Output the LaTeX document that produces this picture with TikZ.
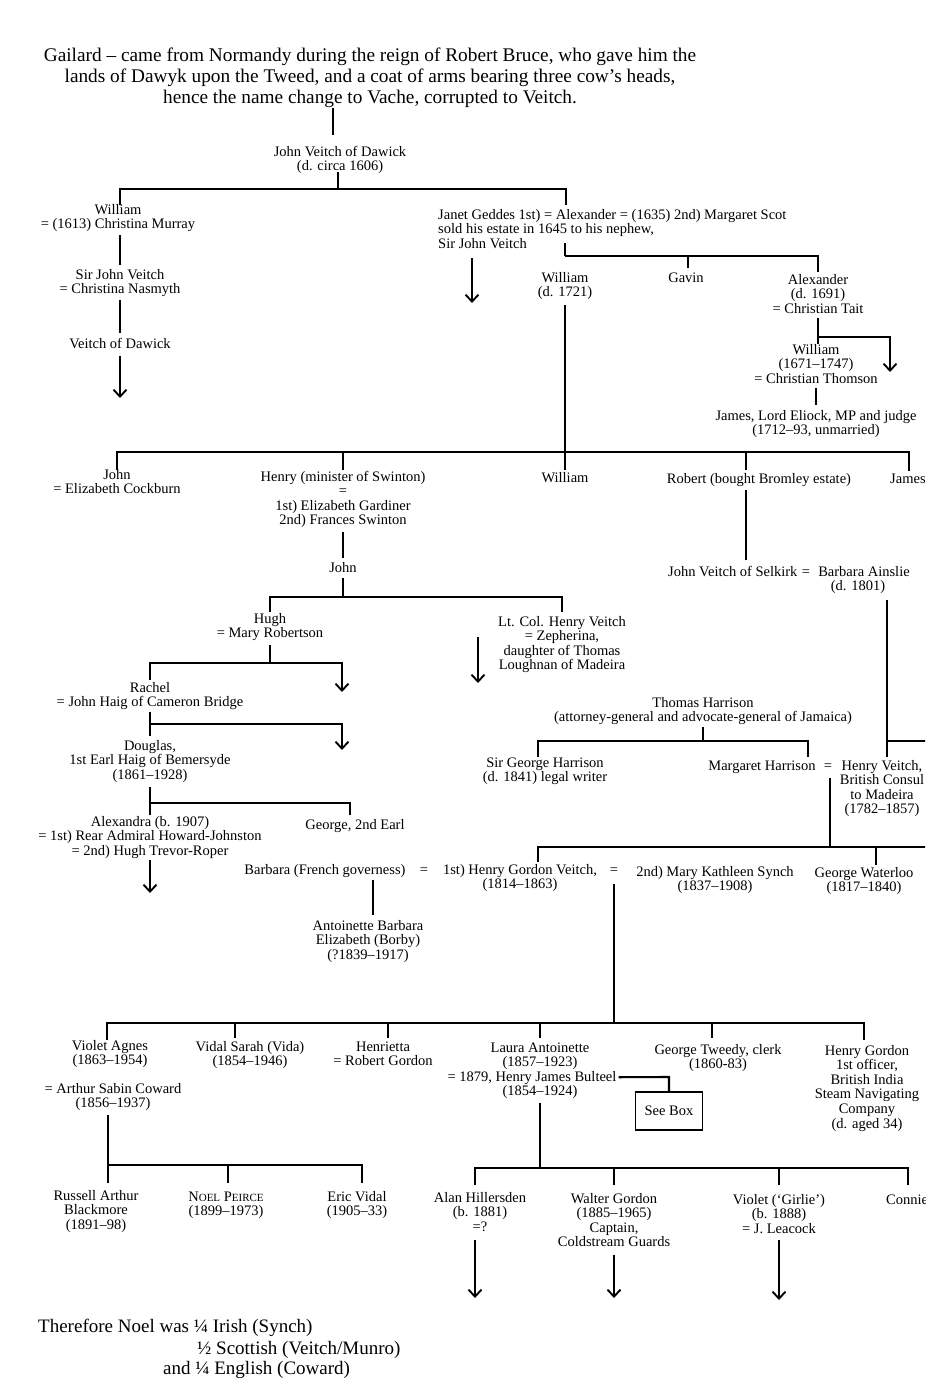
\documentclass[tikz,border=0pt]{standalone}
\usepackage{fontspec}
\setmainfont{Liberation Serif}
\usetikzlibrary{arrows.meta}
\newcommand{\bodyfont}{\fontsize{14.5}{14.6}\selectfont}
\newcommand{\headfont}{\fontsize{19.3}{21}\selectfont}
\newcommand{\footfont}{\fontsize{19}{21}\selectfont}
\newcommand{\smc}[1]{{\fontsize{11}{12}\selectfont #1}}
\begin{document}
\begin{tikzpicture}[x=1pt,y=-1pt,
  lbl/.style={inner sep=0pt,align=center,font=\bodyfont,anchor=base},
  lbll/.style={inner sep=0pt,align=left,font=\bodyfont,anchor=base west},
  nl/.style={yshift=-(#1-1)*14.6pt},
  tn/.style={line width=1.4pt,line join=miter},
  md/.style={line width=2.1pt,line join=miter},
  tk/.style={line width=2.7pt,line join=miter},
  arr/.style={line width=1.7pt,line join=miter,-{Straight Barb[length=7pt,width=13pt,line width=1.9pt]}},
]
\useasboundingbox (0,0) rectangle (942,1400);
\clip (0,0) rectangle (925,1400);
% header
\node[inner sep=0pt,align=center,font=\headfont,anchor=base,yshift=-42pt] (head) at (370,61)
 {Gailard -- came from Normandy during the reign of Robert Bruce, who gave him the\\
  lands of Dawyk upon the Tweed, and a coat of arms bearing three cow's heads,\\
  hence the name change to Vache, corrupted to Veitch.};
\node[lbl,nl=2] (jv) at (340,156) {John Veitch of Dawick\\(d. circa 1606)};
\node[lbl,nl=2] (w1) at (118,214) {William\\= (1613) Christina Murray};
\node[lbl,nl=2] (sjv) at (120,279) {Sir John Veitch\\= Christina Nasmyth};
\node[lbl] (vod) at (120,348) {Veitch of Dawick};
\node[lbll,nl=3] (janet) at (438,219) {Janet Geddes 1st) = Alexander = (1635) 2nd) Margaret Scot\\sold his estate in 1645 to his nephew,\\Sir John Veitch};
\node[lbl,nl=2] (w2) at (565,282) {William\\(d. 1721)};
\node[lbl] (gavin) at (686,282) {Gavin};
\node[lbl,nl=3] (alex) at (818,284) {Alexander\\(d. 1691)\\= Christian Tait};
\node[lbl,nl=3] (w3) at (816,354) {William\\(1671--1747)\\= Christian Thomson};
\node[lbl,nl=2] (eliock) at (816,420) {James, Lord Eliock, MP and judge\\(1712--93, unmarried)};
\node[lbl,nl=2] (john2) at (117,479) {John\\= Elizabeth Cockburn};
\node[lbl,nl=4] (henry) at (343,481) {Henry (minister of Swinton)\\=\\1st) Elizabeth Gardiner\\2nd) Frances Swinton};
\node[lbl] (w4) at (565,482) {William};
\node[lbl] (robert) at (759,483) {Robert (bought Bromley estate)};
\node[lbll] (jamesR) at (890,483) {James};
\node[lbl] (john3) at (343,572) {John};
\node[lbl,nl=2] (hugh) at (270,623) {Hugh\\= Mary Robertson};
\node[lbl,nl=4] (ltcol) at (562,626) {Lt. Col. Henry Veitch\\= Zepherina,\\daughter of Thomas\\Loughnan of Madeira};
\node[lbl,nl=2] (rachel) at (150,692) {Rachel\\= John Haig of Cameron Bridge};
\node[lbl,nl=3] (douglas) at (150,750) {Douglas,\\1st Earl Haig of Bemersyde\\(1861--1928)};
\node[lbl,nl=3] (alexandra) at (150,826) {Alexandra (b. 1907)\\= 1st) Rear Admiral Howard-Johnston\\= 2nd) Hugh Trevor-Roper};
\node[lbl] (george2) at (355,829) {George, 2nd Earl};
\node[lbll] (selkirk) at (668,576) {John Veitch of Selkirk};
\node[lbl] (eq1) at (806,576) {=};
\node[lbl] (ainslie) at (864,576) {Barbara Ainslie};
\node[lbl] (ainslie2) at (858,590.6) {(d. 1801)};
\node[lbl,nl=2] (thomas) at (703,707) {Thomas Harrison\\(attorney-general and advocate-general of Jamaica)};
\node[lbl,nl=2] (sirgeorge) at (545,767) {Sir George Harrison\\(d. 1841) legal writer};
\node[lbl] (margaret) at (762,770) {Margaret Harrison};
\node[lbl] (eq2) at (828,770) {=};
\node[lbl,nl=4] (henryV) at (882,770) {Henry Veitch,\\British Consul\\to Madeira\\(1782--1857)};
\node[lbl] (barbaraF) at (325,874) {Barbara (French governess)};
\node[lbl] (eq3) at (424,874) {=};
\node[lbl,nl=2] (hgv) at (520,874) {1st) Henry Gordon Veitch,\\(1814--1863)};
\node[lbl] (eq4) at (614,874) {=};
\node[lbl,nl=2] (mks) at (715,876) {2nd) Mary Kathleen Synch\\(1837--1908)};
\node[lbl,nl=2] (gw) at (864,877) {George Waterloo\\(1817--1840)};
\node[lbl,nl=3] (borby) at (368,930) {Antoinette Barbara\\Elizabeth (Borby)\\(?1839--1917)};
\node[lbl,nl=2] (violet) at (110,1050) {Violet Agnes\\(1863--1954)};
\node[lbl,nl=2] (coward) at (113,1093) {= Arthur Sabin Coward\\(1856--1937)};
\node[lbl,nl=2] (vidal) at (250,1051) {Vidal Sarah (Vida)\\(1854--1946)};
\node[lbl,nl=2] (henrietta) at (383,1051) {Henrietta\\= Robert Gordon};
\node[lbl,nl=2] (laura) at (540,1052) {Laura Antoinette\\(1857--1923)};
\node[lbl] (bulteel) at (532,1081.2) {= 1879, Henry James Bulteel};
\node[lbl] (bulteel2) at (540,1095.8) {(1854--1924)};
\node[lbl,nl=2] (gt) at (718,1054) {George Tweedy, clerk\\(1860-83)};
\node[lbl,nl=6] (hg) at (867,1055) {Henry Gordon\\1st officer,\\British India\\Steam Navigating\\Company\\(d. aged 34)};
\node[draw,line width=1.5pt,inner sep=0pt,minimum width=67pt,minimum height=38pt,font=\bodyfont] (seebox) at (669,1111) {See Box};
\node[lbl,nl=3] (russell) at (96,1200) {Russell Arthur\\Blackmore\\(1891--98)};
\node[lbl,nl=2] (noel) at (226,1201) {N\smc{OEL} P\smc{EIRCE}\\(1899--1973)};
\node[lbl,nl=2] (eric) at (357,1201) {Eric Vidal\\(1905--33)};
\node[lbl,nl=3] (alan) at (480,1202) {Alan Hillersden\\(b. 1881)\\=?};
\node[lbl,nl=4] (walter) at (614,1203) {Walter Gordon\\(1885--1965)\\Captain,\\Coldstream Guards};
\node[lbl,nl=3] (violet2) at (779,1204) {Violet (‘Girlie’)\\(b. 1888)\\= J. Leacock};
\node[lbll] (connie) at (886,1204) {Connie};
\node[inner sep=0pt,font=\footfont,anchor=base west] (f1) at (38,1332) {Therefore Noel was ¼ Irish (Synch)};
\node[inner sep=0pt,font=\footfont,anchor=base west] (f2) at (197,1354) {½ Scottish (Veitch/Munro)};
\node[inner sep=0pt,font=\footfont,anchor=base west] (f3) at (163,1374) {and ¼ English (Coward)};
% connectors
\draw[tk] (333,108) -- (333,135);
\draw[tk] (338,172) -- (338,189);
\draw[tk] (120,205) -- (120,189) -- (566,189) -- (566,205);
\draw[tn] (120,235) -- (120,265);
\draw[tn] (120,300) -- (120,333);
\draw[arr] (120,356) -- (120,398);
\draw[arr] (472,258) -- (472,303);
\draw[tk] (565,243) -- (565,256);
\draw[md] (565,256) -- (818,256) -- (818,272);
\draw[tn] (688,256) -- (688,268);
\draw[tk] (565,305) -- (565,470);
\draw[tn] (818,318) -- (818,344);
\draw[arr] (818,337) -- (890,337) -- (890,372);
\draw[tn] (816,388) -- (816,405);
\draw[tk] (117,470) -- (117,452) -- (909,452) -- (909,471);
\draw[tn] (343,452) -- (343,470);
\draw[tk] (746,452) -- (746,470);
\draw[tk] (343,532) -- (343,558);
\draw[tn] (343,578) -- (343,597);
\draw[md] (270,612) -- (270,597) -- (562,597) -- (562,612);
\draw[arr] (478,637) -- (478,683);
\draw[tn] (270,645) -- (270,663);
\draw[tn] (150,680) -- (150,663) -- (270,663);
\draw[arr] (270,663) -- (342,663) -- (342,692);
\draw[tn] (150,712) -- (150,736);
\draw[arr] (150,724) -- (342,724) -- (342,750);
\draw[tn] (150,787) -- (150,815);
\draw[md] (150,803) -- (350,803) -- (350,815);
\draw[arr] (150,860) -- (150,893);
\draw[tk] (746,490) -- (746,560);
\draw[tk] (887,600) -- (887,757);
\draw[md] (887,741) -- (942,741);
\draw[tn] (703,727) -- (703,741);
\draw[md] (538,757) -- (538,741) -- (808,741) -- (808,757);
\draw[tk] (830,778) -- (830,847);
\draw[tk] (538,862) -- (538,847) -- (942,847);
\draw[tn] (876,847) -- (876,865);
\draw[tn] (373,880) -- (373,915);
\draw[tk] (614,884) -- (614,1023);
\draw[tk] (107,1040) -- (107,1023) -- (864,1023) -- (864,1040);
\draw[tn] (235,1023) -- (235,1038);
\draw[tn] (388,1023) -- (388,1038);
\draw[tn] (540,1023) -- (540,1038);
\draw[tn] (712,1023) -- (712,1038);
\draw[md] (bulteel.base east) ++(2,-4) -- (669,1077) -- (seebox.north);
\draw[tk] (108,1115) -- (108,1165);
\draw[tk] (108,1183) -- (108,1165) -- (228,1165);
\draw[md] (228,1165) -- (362,1165) -- (362,1183);
\draw[tn] (228,1165) -- (228,1183);
\draw[tn] (540,1103) -- (540,1168);
\draw[md] (475,1185) -- (475,1168) -- (908,1168) -- (908,1185);
\draw[tn] (614,1168) -- (614,1185);
\draw[tn] (779,1168) -- (779,1185);
\draw[arr] (475,1240) -- (475,1298);
\draw[arr] (614,1255) -- (614,1298);
\draw[arr] (779,1240) -- (779,1300);
\end{tikzpicture}
\end{document}
